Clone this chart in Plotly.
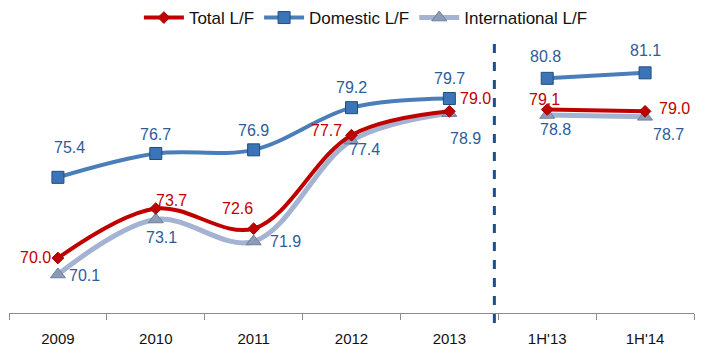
import plotly.graph_objects as go

categories = ["2009", "2010", "2011", "2012", "2013", "1H'13", "1H'14"]
total_lf = [71.0, 73.7, 72.6, 77.7, 79.0, 79.1, 79.0]
total_labels = ["70.0", "73.7", "72.6", "77.7", "79.0", "79.1", "79.0"]
domestic_lf = [75.4, 76.7, 76.9, 79.2, 79.7, 80.8, 81.1]
international_lf = [70.1, 73.1, 71.9, 77.4, 78.9, 78.8, 78.7]

RED = "#C00000"
BLUE = "#4A7EBB"
LIGHT = "#A3B3D1"
LABEL_BLUE = "#2E5C9A"

x_idx = list(range(len(categories)))
seg1 = x_idx[:5]
seg2 = x_idx[5:]

fig = go.Figure()

series = [
    ("International L/F", international_lf, LIGHT, 5,
     dict(symbol="triangle-up", size=13, color="#8C9BB6", line=dict(color="#6E7F9E", width=1))),
    ("Domestic L/F", domestic_lf, BLUE, 4,
     dict(symbol="square", size=12, color="#3B74B8", line=dict(color="#1F4E79", width=1))),
    ("Total L/F", total_lf, RED, 4,
     dict(symbol="diamond", size=9, color=RED, line=dict(color="#A00000", width=1))),
]

for name, vals, col, w, mk in series:
    for k, seg in enumerate([seg1, seg2]):
        fig.add_trace(go.Scatter(
            x=[x_idx[i] for i in seg], y=[vals[i] for i in seg],
            mode="lines+markers", name=name, legendgroup=name,
            showlegend=(k == 0),
            line=dict(color=col, width=w, shape="spline", smoothing=1.0),
            marker=mk,
        ))

# label offsets (pixels) for each series
dom_off = [(12, 30), (0, 19), (0, 19), (0, 20), (0, 20), (-2, 22), (0, 22)]
tot_off = [(-22, 1), (16, 8), (-16, 20), (-25, 5), (26, 13), (-3, 10), (29, 3)]
int_off = [(27, -1), (6, -18), (32, 0), (13, -9), (16, -25), (8, -14), (23, -18)]

for vals, labels, offs, col in [
    (domestic_lf, [f"{v:.1f}" for v in domestic_lf], dom_off, LABEL_BLUE),
    (total_lf, total_labels, tot_off, RED),
    (international_lf, [f"{v:.1f}" for v in international_lf], int_off, LABEL_BLUE),
]:
    for i, (v, t, o) in enumerate(zip(vals, labels, offs)):
        fig.add_annotation(x=x_idx[i], y=v, text=t, showarrow=False,
                           xshift=o[0], yshift=o[1],
                           font=dict(family="Liberation Sans, Arial", size=16, color=col))

fig.add_shape(type="line", x0=4.46, x1=4.46, xref="x", y0=-0.036, y1=1.0, yref="paper",
              line=dict(color="#1F4E8C", width=3, dash="dash"))

fig.update_layout(
    width=708, height=353,
    margin=dict(l=9, r=14, t=38, b=40, autoexpand=False),
    paper_bgcolor="white", plot_bgcolor="white",
    showlegend=True,
    legend=dict(orientation="h", x=0.521, xanchor="center", y=1.0, yref="container",
                yanchor="top",
                font=dict(family="Liberation Sans, Arial", size=17, color="#111"),
                traceorder="reversed", itemwidth=40, bgcolor="rgba(0,0,0,0)"),
    xaxis=dict(range=[-0.5, 6.5], tickmode="array", tickvals=x_idx, ticktext=categories,
               showgrid=False, zeroline=False, showline=True, linecolor="#8C8C8C", linewidth=1,
               ticks="", ticklabelstandoff=12,
               tickfont=dict(family="Liberation Sans, Arial", size=15, color="#111")),
    yaxis=dict(range=[68, 83], visible=False, showgrid=False, zeroline=False),
)

# boundary tick marks via minor ticks
fig.update_xaxes(minor=dict(tickmode="array", tickvals=[-0.5 + i for i in range(8)],
                            ticks="outside", ticklen=6, tickcolor="#8C8C8C", showgrid=False))

fig.write_html("out.html")
